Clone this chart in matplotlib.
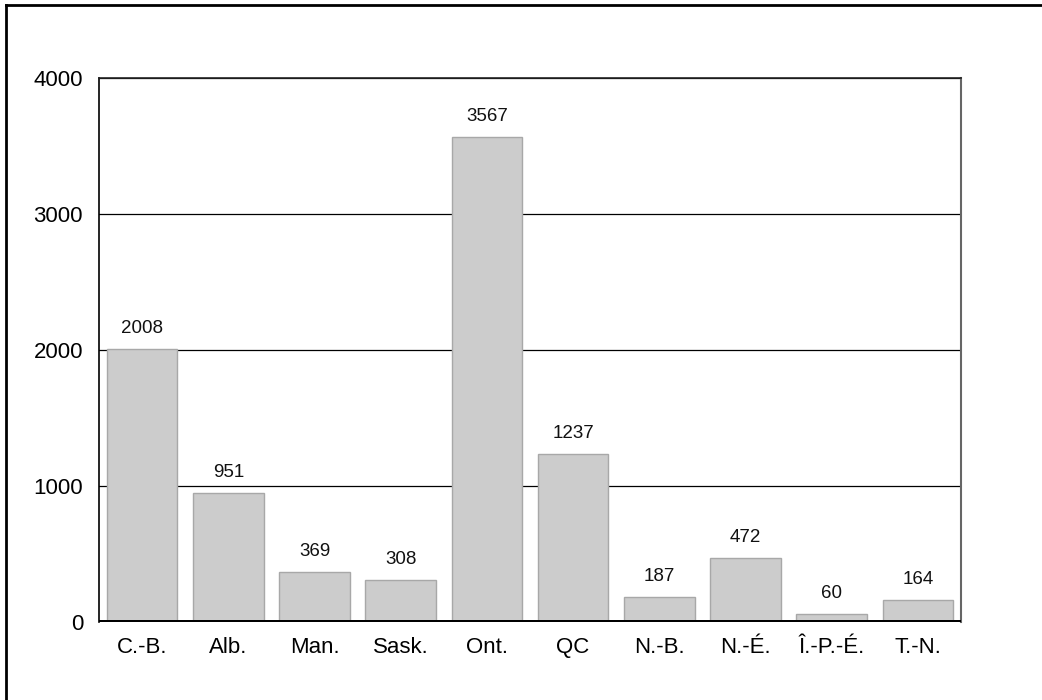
import matplotlib.pyplot as plt
import numpy as np
from matplotlib.lines import Line2D

plt.rcParams['font.family'] = ['Liberation Sans', 'DejaVu Sans']

provinces = ['C.-B.', 'Alb.', 'Man.', 'Sask.', 'Ont.', 'QC', 'N.-B.', 'N.-É.', 'Î.-P.-É.', 'T.-N.']
counts = [2008, 951, 369, 308, 3567, 1237, 187, 472, 60, 164]
yticks = [0, 1000, 2000, 3000, 4000]

W, H = 1042, 700
fig = plt.figure(figsize=(W / 100, H / 100), dpi=100)
ax = fig.add_axes([99 / W, 1 - 622 / H, (961 - 99) / W, (622 - 78) / H])

x = np.arange(len(provinces))
ax.bar(x, counts, width=0.82, color='#cccccc', edgecolor='#a8a8a8', linewidth=1.0, zorder=2)
for xi, v in zip(x, counts):
    ax.annotate(str(v), (xi, v), xytext=(0, 16), textcoords='offset pixels',
                ha='center', va='baseline', fontsize=13.5, color='#111111')

ax.set_xlim(-0.5, len(provinces) - 0.5)
ax.set_ylim(0, 4000)
ax.set_yticks(yticks)
ax.set_yticklabels([str(t) for t in yticks], fontsize=16)
ax.set_xticks(x)
ax.set_xticklabels(provinces, fontsize=16)
ax.tick_params(axis='both', length=0)
ax.tick_params(axis='y', pad=11.5)
ax.tick_params(axis='x', pad=11)

ax.yaxis.grid(True, color='black', linewidth=0.9, zorder=0)
ax.set_axisbelow(True)

ax.spines['left'].set_color('black')
ax.spines['top'].set_color('#222222')
ax.spines['right'].set_color('#666666')
ax.spines['left'].set_linewidth(1.2)
ax.spines['top'].set_linewidth(1.2)
ax.spines['right'].set_linewidth(1.5)
ax.spines['bottom'].set_visible(False)

# heavy baseline at zero, running a little past the axes
ax.add_line(Line2D([97 / W, 963 / W], [1 - 621.5 / H, 1 - 621.5 / H], transform=fig.transFigure,
                   color='black', linewidth=3.6, solid_capstyle='butt', zorder=5))

# outer frame (left and top edges)
fig.add_artist(Line2D([6 / W, 6 / W], [0, 1 - 5 / H], transform=fig.transFigure,
                      color='black', linewidth=2.0, solid_capstyle='projecting'))
fig.add_artist(Line2D([6 / W, 1], [1 - 5 / H, 1 - 5 / H], transform=fig.transFigure,
                      color='black', linewidth=2.0, solid_capstyle='projecting'))

fig.savefig('out.png', dpi=100)
